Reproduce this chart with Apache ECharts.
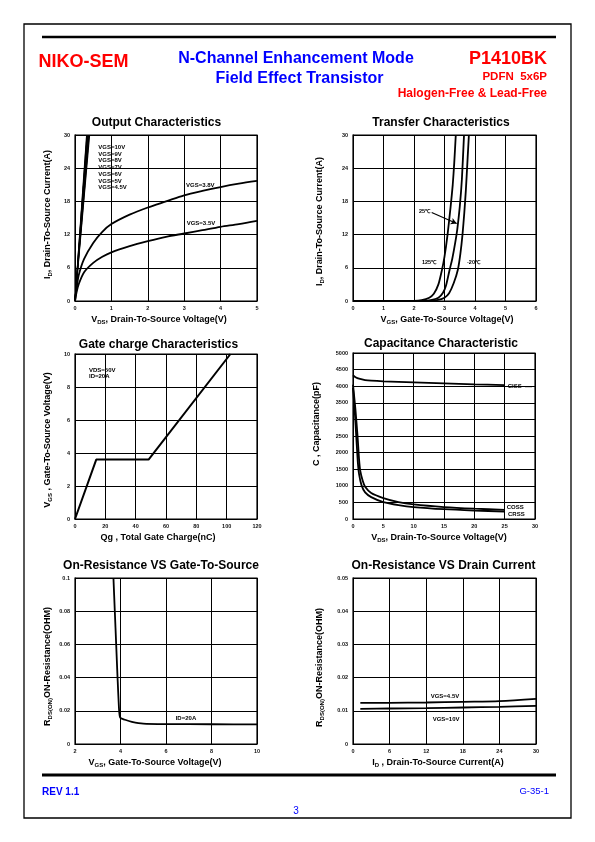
<!DOCTYPE html>
<html>
<head>
<meta charset="utf-8">
<script src="https://cdn.jsdelivr.net/npm/echarts@6/dist/echarts.min.js"></script>
<style>
html,body{margin:0;padding:0;background:#fff;}
#c{width:595px;height:842px;}
</style>
</head>
<body>
<div id="c"></div>
<script>
// ---------------- DATA ----------------
// 1. Output characteristics  (VDS [V], ID [A])
const outVgs10 = [[0,0],[0.32,30]];
const outVgs9  = [[0,0],[0.33,30]];
const outVgs8  = [[0,0],[0.34,30]];
const outVgs7  = [[0,0],[0.355,30]];
const outVgs6  = [[0,0],[0.37,30]];
const outVgs5  = [[0,0],[0.385,30]];
const outVgs45 = [[0,0],[0.40,30]];
const outVgs38 = [[0,0],[0.05,2.5],[0.1,4.6],[0.25,7.6],[0.5,10.5],[0.75,12.5],[1,13.9],[1.5,15.6],[2,16.9],[2.5,18.0],[3,19.1],[3.5,19.9],[4,20.6],[4.5,21.2],[5,21.7]];
const outVgs35 = [[0,0],[0.05,1.8],[0.1,3.0],[0.25,5.2],[0.5,6.9],[0.75,8.0],[1,8.8],[1.5,9.9],[2,10.8],[2.5,11.6],[3,12.2],[3.5,12.8],[4,13.4],[4.5,13.9],[5,14.5]];
const outLabels = ['VGS=10V','VGS=9V','VGS=8V','VGS=7V','VGS=6V','VGS=5V','VGS=4.5V'];

// 2. Transfer characteristics (VGS [V], ID [A])
const tr125 = [[0,0],[2.0,0.02],[2.25,0.15],[2.5,0.6],[2.65,1.3],[2.8,3.0],[2.92,5.7],[3.0,8.0],[3.1,12],[3.2,17],[3.27,21],[3.32,25],[3.37,30]];
const tr25  = [[0,0],[2.3,0.02],[2.55,0.15],[2.8,0.6],[2.95,1.5],[3.05,2.8],[3.17,5.7],[3.25,7.5],[3.35,10.5],[3.42,13],[3.5,17],[3.57,22],[3.64,30]];
const trM20 = [[0,0],[2.5,0.02],[2.75,0.15],[3.0,0.6],[3.15,1.4],[3.3,3.2],[3.44,5.7],[3.52,8.5],[3.59,12],[3.65,16],[3.7,20],[3.76,26],[3.8,30]];
const trArrow = [[2.58,16],[3.40,14]];

// 3. Gate charge (Qg [nC], VGS [V])
const gateCharge = [[0,0],[14,3.6],[48.5,3.6],[102.5,10]];

// 4. Capacitance (VDS [V], C [pF])
const ciss = [[0,4330],[0.5,4260],[1,4225],[2,4185],[3,4165],[5,4145],[10,4115],[15,4085],[20,4055],[25,4035]];
const coss = [[0,4050],[0.4,3300],[0.75,2500],[1.0,1800],[1.2,1450],[1.6,1150],[2,970],[3,780],[5,630],[7.5,510],[10,440],[15,360],[20,310],[25,275]];
const crss = [[0,3950],[0.3,3200],[0.55,2450],[0.8,1700],[1.0,1350],[1.4,1020],[2,800],[3,660],[5,510],[7.5,420],[10,360],[15,295],[20,255],[25,225]];

// 5. RDS(on) vs VGS (VGS [V], R [ohm])
const rdsVgs = [[3.69,0.1],[3.75,0.08],[3.81,0.06],[3.87,0.04],[3.94,0.02],[3.99,0.0158],[4.2,0.0146],[4.5,0.0134],[5,0.0123],[6,0.0120],[8,0.0119],[10,0.0118]];

// 6. RDS(on) vs ID (ID [A], R [ohm])
const rdsId45 = [[1.2,0.0124],[6,0.0124],[12,0.0125],[18,0.0127],[24,0.0129],[30,0.0136]];
const rdsId10 = [[1.2,0.0106],[6,0.0107],[12,0.0108],[18,0.0110],[24,0.0112],[30,0.0115]];

// axis ranges [min,max,interval]
const xRanges = [[0,5,1],[0,6,1],[0,120,20],[0,30,5],[2,10,2],[0,30,6]];
const yRanges = [[0,30,6],[0,30,6],[0,10,2],[0,5000,500],[0,0.1,0.02],[0,0.05,0.01]];

// ---------------- LAYOUT ----------------
const FONT = '"Liberation Sans", Arial, Helvetica, sans-serif';
const grids = [
  {left:75, top:135, width:182, height:166},
  {left:353, top:135, width:183, height:166},
  {left:75, top:354, width:182, height:165},
  {left:353, top:353, width:182, height:166},
  {left:75, top:578, width:182, height:166},
  {left:353, top:578, width:183, height:166}
];
const richName = {
  n:{fontSize:9, fontWeight:'bold', fontFamily:FONT, color:'#000', lineHeight:11},
  s:{fontSize:6, fontWeight:'bold', fontFamily:FONT, color:'#000', lineHeight:6, verticalAlign:'bottom'}
};
const xNames = [
  '{n|V}{s|DS}{n|, Drain-To-Source Voltage(V)}',
  '{n|V}{s|GS}{n|, Gate-To-Source Voltage(V)}',
  '{n|Qg , Total Gate Charge(nC)}',
  '{n|V}{s|DS}{n|, Drain-To-Source Voltage(V)}',
  '{n|V}{s|GS}{n|, Gate-To-Source Voltage(V)}',
  '{n|I}{s|D}{n| , Drain-To-Source Current(A)}'
];
const yNames = [
  '{n|I}{s|D}{n|, Drain-To-Source Current(A)}',
  '{n|I}{s|D}{n|, Drain-To-Source Current(A)}',
  '{n|V}{s|GS}{n| , Gate-To-Source Voltage(V)}',
  '{n|C , Capacitance(pF)}',
  '{n|R}{s|DS(ON)}{n|ON-Resistance(OHM)}',
  '{n|R}{s|DS(ON)}{n|ON-Resistance(OHM)}'
];
const xNamePad = [[0,14,0,0],[0,0,0,5],[0,16,0,0],[0,10,0,0],[0,22,0,0],[0,13,0,0]];
const yNamePad = [[0,0,0,7],[0,7,0,0],[0,7,0,0],[0,0,0,24],[0,11,0,0],[0,13,0,0]];
const yNameGap = [22,28,22,31,22,28];

function mkAxis(i, r, isX){
  return {
    type:'value', gridIndex:i, min:r[0], max:r[1], interval:r[2],
    axisLine:{show:true, onZero:false, lineStyle:{color:'#000', width:1}},
    axisTick:{show:false},
    splitLine:{show:true, lineStyle:{color:'#000', width:1}},
    axisLabel:{fontSize:5.5, fontWeight:'bold', color:'#111', fontFamily:FONT, margin:isX?4:5,
      formatter:function(v){ return String(+v.toFixed(4)); }},
    name: isX ? xNames[i] : yNames[i],
    nameLocation:'middle',
    nameGap: isX ? 13 : yNameGap[i],
    nameTextStyle:{rich:richName, padding: isX ? xNamePad[i] : yNamePad[i]}
  };
}
const xAxes = xRanges.map((r,i)=>mkAxis(i,r,true));
const yAxes = yRanges.map((r,i)=>mkAxis(i,r,false));

function line(i, data, w, sm){
  return {type:'line', xAxisIndex:i, yAxisIndex:i, data:data, showSymbol:false, symbol:'none',
    smooth:(sm===undefined?0.3:sm), silent:true,
    lineStyle:{color:'#000', width:w||1.8}};
}
const series = [
  line(0,outVgs10,1.2,false),line(0,outVgs9,1.2,false),line(0,outVgs8,1.2,false),line(0,outVgs7,1.2,false),
  line(0,outVgs6,1.2,false),line(0,outVgs5,1.2,false),line(0,outVgs45,1.2,false),
  line(0,outVgs38),line(0,outVgs35),
  line(1,tr125,1.8,0.2),line(1,tr25,1.8,0.2),line(1,trM20,1.8,0.2),
  line(2,gateCharge,2,false),
  line(3,ciss),line(3,coss,1.8,0.25),line(3,crss,1.8,0.25),
  line(4,rdsVgs,1.8,0.2),
  line(5,rdsId45),line(5,rdsId10),
  {type:'line', xAxisIndex:1, yAxisIndex:1, data:[], silent:true,
   markLine:{silent:true, symbol:['none','arrow'], symbolSize:[5,6], animation:false,
     lineStyle:{color:'#000', width:1.2, type:'solid'}, label:{show:false},
     data:[[{coord:trArrow[0]},{coord:trArrow[1]}]]}}
];

function txt(t, x, y, font, fill, align, vAlign){
  return {type:'text', silent:true, style:{text:t, x:x, y:y, font:font, fill:fill||'#000',
    align:align||'left', verticalAlign:vAlign||'middle'}};
}
const B = (s)=>'bold '+s+'px '+FONT;
const N = (s)=>s+'px '+FONT;
const RED = '#ff0000', BLUE = '#0000ff';

const graphics = [
  {type:'rect', silent:true, shape:{x:24, y:24, width:547, height:794}, style:{fill:'none', stroke:'#000', lineWidth:1.3}},
  {type:'line', silent:true, shape:{x1:42, y1:37, x2:556, y2:37}, style:{stroke:'#000', lineWidth:2.5}},
  {type:'line', silent:true, shape:{x1:42, y1:775, x2:556, y2:775}, style:{stroke:'#000', lineWidth:3}},
  txt('NIKO-SEM', 38.5, 62, B(18), RED),
  txt('N-Channel Enhancement Mode', 296, 59, B(16), BLUE, 'center'),
  txt('Field Effect Transistor', 299.5, 79, B(16), BLUE, 'center'),
  txt('P1410BK', 547, 59, B(18), RED, 'right'),
  txt('PDFN  5x6P', 547, 76.5, B(11.5), RED, 'right'),
  txt('Halogen-Free & Lead-Free', 547, 93.2, B(12), RED, 'right'),
  txt('REV 1.1', 42, 792, B(10), BLUE),
  txt('G-35-1', 549, 791, N(9.5), BLUE, 'right'),
  txt('3', 296, 811, N(10), BLUE, 'center'),
  // chart titles
  txt('Output Characteristics', 156.5, 123, B(12), '#000', 'center'),
  txt('Transfer Characteristics', 441, 123, B(12), '#000', 'center'),
  txt('Gate charge Characteristics', 158.5, 344.5, B(12), '#000', 'center'),
  txt('Capacitance Characteristic', 441, 344, B(12), '#000', 'center'),
  txt('On-Resistance VS Gate-To-Source', 161, 566, B(12), '#000', 'center'),
  txt('On-Resistance VS Drain Current', 443.5, 566, B(12), '#000', 'center'),
  // in-chart labels
  txt('VGS=3.8V', 186, 185, B(6)),
  txt('VGS=3.5V', 186.7, 223.3, B(6)),
  txt('25\u2103', 419, 211.7, B(5.5)),
  txt('125\u2103', 422, 262, B(5.5)),
  txt('-20\u2103', 467, 262, B(5.5)),
  txt('VDS=50V', 89, 370, B(6)),
  txt('ID=20A', 89, 376.7, B(6)),
  txt('CISS', 507.7, 386.7, B(6)),
  {type:'line', silent:true, shape:{x1:525, y1:386.7, x2:532, y2:386.7}, style:{stroke:'#000', lineWidth:1}},
  txt('COSS', 506.7, 507, B(6)),
  txt('CRSS', 508, 514, B(6)),
  txt('ID=20A', 175.7, 718.3, B(6)),
  txt('VGS=4.5V', 430.7, 696.7, B(6)),
  txt('VGS=10V', 432.7, 719, B(6))
];
outLabels.forEach((t,k)=>{ graphics.push(txt(t, 98.3, 147.3 + k*6.73, B(6))); });

const chart = echarts.init(document.getElementById('c'), null, {renderer:'canvas', width:595, height:842});
chart.setOption({
  animation:false,
  backgroundColor:'#fff',
  textStyle:{fontFamily:FONT},
  grid: grids.map(g=>Object.assign({show:true, borderColor:'#000', borderWidth:1.2, backgroundColor:'transparent', containLabel:false}, g)),
  xAxis: xAxes,
  yAxis: yAxes,
  series: series,
  graphic: {elements: graphics}
});
</script>
</body>
</html>
